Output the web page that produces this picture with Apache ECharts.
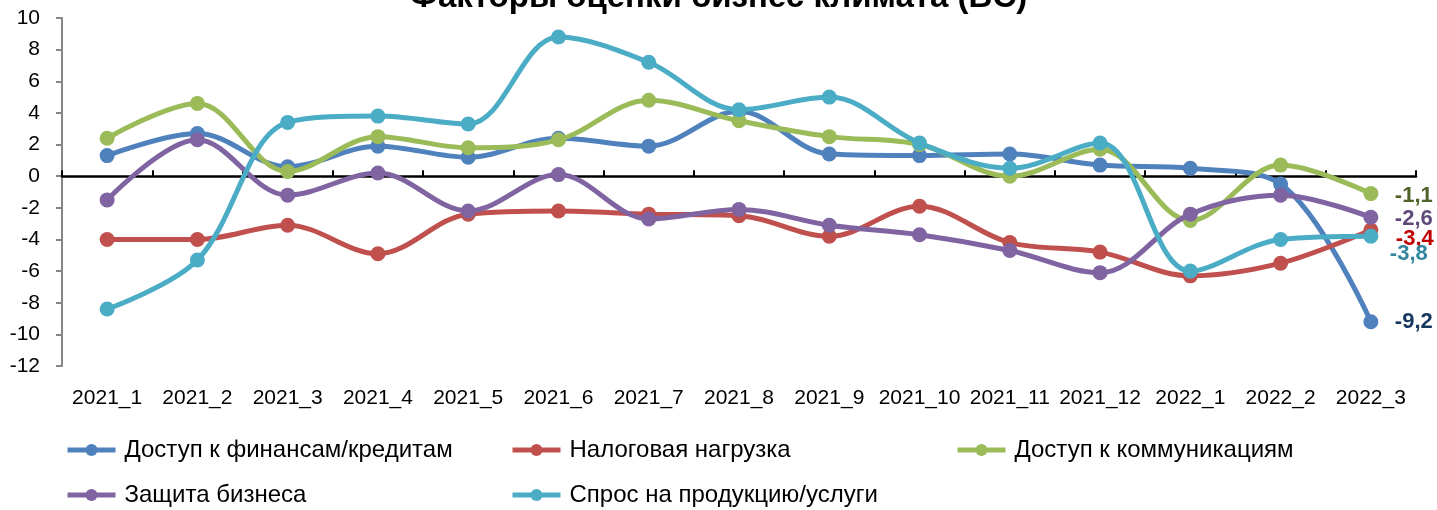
<!DOCTYPE html>
<html>
<head>
<meta charset="utf-8">
<script src="https://cdn.jsdelivr.net/npm/echarts@6/dist/echarts.min.js"></script>
<style>
html,body{margin:0;padding:0;background:#fff;}
#chart{width:1437px;height:510px;}
</style>
</head>
<body>
<div id="chart"></div>
<script>
const categories = ['2021_1','2021_2','2021_3','2021_4','2021_5','2021_6','2021_7','2021_8','2021_9','2021_10','2021_11','2021_12','2022_1','2022_2','2022_3'];
const seriesNames = ['Доступ к финансам/кредитам','Налоговая нагрузка','Доступ к коммуникациям','Защита бизнеса','Спрос на продукцию/услуги'];
const finance = [1.3, 2.7, 0.6, 1.9, 1.2, 2.4, 1.9, 4.1, 1.4, 1.3, 1.4, 0.7, 0.5, -0.5, -9.2];
const tax     = [-4.0, -4.0, -3.1, -4.9, -2.4, -2.2, -2.4, -2.5, -3.8, -1.9, -4.2, -4.8, -6.3, -5.5, -3.4];
const comm    = [2.4, 4.6, 0.3, 2.5, 1.8, 2.3, 4.8, 3.5, 2.5, 2.0, 0.0, 1.7, -2.8, 0.7, -1.1];
const protect = [-1.5, 2.3, -1.2, 0.2, -2.2, 0.1, -2.7, -2.1, -3.1, -3.7, -4.7, -6.1, -2.4, -1.2, -2.6];
const demand  = [-8.4, -5.3, 3.4, 3.8, 3.3, 8.8, 7.2, 4.2, 5.0, 2.1, 0.5, 2.1, -6.0, -4.0, -3.8];
const yTicks = [-12, -10, -8, -6, -4, -2, 0, 2, 4, 6, 8, 10];
const titleText = 'Факторы оценки бизнес климата (BC)';

const values = [finance, tax, comm, protect, demand];
const colors = ['#4F81BD', '#C0504D', '#9BBB59', '#8064A2', '#4BACC6'];
const labelColors = ['#17375E', '#C00000', '#4F6228', '#5F497A', '#31859C'];
const labelOffsets = [[14, 0], [15, 9], [14, 2], [14, 2], [9, 18]];
const FONT = '"Liberation Sans", Arial, sans-serif';

const chart = echarts.init(document.getElementById('chart'), null, {renderer: 'canvas'});

const series = values.map((vals, i) => ({
  name: seriesNames[i],
  type: 'line',
  data: vals,
  xAxisIndex: 0,
  yAxisIndex: 0,
  smooth: 0.35,
  symbol: 'circle',
  symbolSize: 15,
  showSymbol: true,
  lineStyle: {width: 5, color: colors[i]},
  itemStyle: {color: colors[i]},
  emphasis: {disabled: true},
  endLabel: {
    show: true,
    formatter: p => p.value.toFixed(1).replace('.', ','),
    color: labelColors[i],
    fontFamily: FONT,
    fontSize: 22,
    fontWeight: 'bold',
    distance: 10,
    offset: labelOffsets[i]
  },
  z: 2 + i
}));

const legendPos = [
  {left: 65, top: 438}, {left: 510, top: 438}, {left: 955, top: 438},
  {left: 65, top: 483}, {left: 510, top: 483}
];
const legends = seriesNames.map((n, i) => ({
  data: [n],
  left: legendPos[i].left,
  top: legendPos[i].top,
  itemWidth: 48,
  itemHeight: 15,
  itemGap: 0,
  padding: 0,
  selectedMode: false,
  lineStyle: {width: 5},
  textStyle: {fontFamily: FONT, fontSize: 24, color: '#000', padding: [0, 0, 0, 4]}
}));

chart.setOption({
  animation: false,
  backgroundColor: '#fff',
  title: {
    text: titleText,
    left: 'center',
    top: -24,
    textStyle: {fontFamily: FONT, fontSize: 33, fontWeight: 'bold', color: '#000'}
  },
  legend: legends,
  grid: {left: 62, right: 21, top: 18, bottom: 144, containLabel: false},
  xAxis: [
    {
      type: 'category',
      data: categories,
      boundaryGap: true,
      axisLine: {show: true, onZero: true, lineStyle: {color: '#000', width: 2.5}},
      axisTick: {show: true, inside: true, length: 6, alignWithLabel: false, lineStyle: {color: '#000', width: 2}},
      axisLabel: {show: false},
      splitLine: {show: false},
      z: 1
    },
    {
      type: 'category',
      data: categories,
      position: 'bottom',
      boundaryGap: true,
      axisLine: {show: false, onZero: false},
      axisTick: {show: false},
      axisLabel: {show: true, margin: 22, fontFamily: FONT, fontSize: 21, color: '#000', interval: 0},
      splitLine: {show: false}
    }
  ],
  yAxis: {
    type: 'value',
    min: yTicks[0],
    max: yTicks[yTicks.length - 1],
    interval: 2,
    axisLine: {show: true, lineStyle: {color: '#868686', width: 2}},
    axisTick: {show: true, inside: false, length: 6, lineStyle: {color: '#868686', width: 2}},
    axisLabel: {margin: 22, fontFamily: FONT, fontSize: 21, color: '#000'},
    splitLine: {show: false}
  },
  series: series
});
</script>
</body>
</html>
